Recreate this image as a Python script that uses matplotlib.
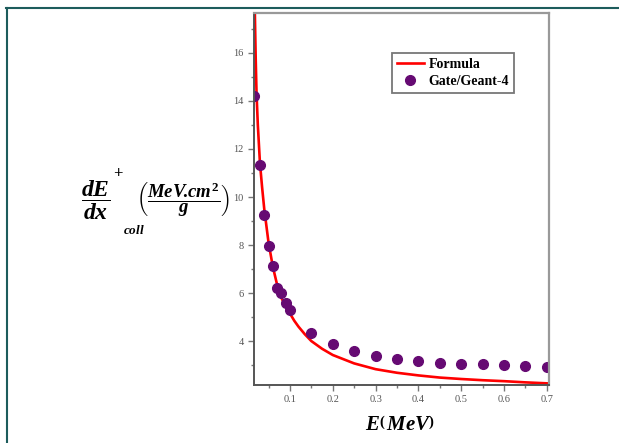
import numpy as np
import matplotlib
matplotlib.use('Agg')
import matplotlib.pyplot as plt
from matplotlib.lines import Line2D
from matplotlib.ticker import MultipleLocator, FormatStrFormatter

plt.rcParams['font.family'] = 'Liberation Serif'
plt.rcParams['mathtext.fontset'] = 'custom'
plt.rcParams['mathtext.it'] = 'Liberation Serif:bold:italic'
plt.rcParams['mathtext.rm'] = 'Liberation Serif:bold'
plt.rcParams['mathtext.bf'] = 'Liberation Serif:bold'

# collision stopping power, analytic curve
E_formula = [0.018, 0.02, 0.022, 0.025, 0.03, 0.035, 0.04, 0.05, 0.06, 0.07, 0.08,
             0.09, 0.1, 0.11, 0.12, 0.135, 0.15, 0.175, 0.2, 0.25, 0.3, 0.35, 0.4,
             0.45, 0.5, 0.55, 0.6, 0.65, 0.7]
S_formula = [17.7, 15.8, 14.3, 13.0, 11.4, 10.4, 9.5, 8.1, 7.1, 6.35, 5.8,
             5.45, 5.15, 4.85, 4.6, 4.28, 4.0, 3.68, 3.42, 3.07, 2.83, 2.68, 2.57,
             2.48, 2.42, 2.37, 2.33, 2.28, 2.24]

# Gate/Geant-4 simulation
E_sim = [0.016, 0.03, 0.04, 0.05, 0.06, 0.07, 0.08, 0.09, 0.1, 0.15, 0.2, 0.25,
         0.3, 0.35, 0.4, 0.45, 0.5, 0.55, 0.6, 0.65, 0.7]
S_sim = [14.2, 11.35, 9.27, 7.98, 7.11, 6.23, 6.0, 5.59, 5.31, 4.34, 3.88, 3.59,
         3.39, 3.25, 3.16, 3.1, 3.05, 3.03, 2.99, 2.96, 2.92]

fig = plt.figure(figsize=(6.19, 4.43), dpi=100)
ax = fig.add_axes([0.4103, 0.1309, 0.4766, 0.839])

ax.plot(E_formula, S_formula, '-', color='#ff0000', lw=1.9, label='Formula')
ax.plot(E_sim, S_sim, 'o', color='#660a73', ms=7, label='Gate/Geant-4')

ax.set_xlim(0.016, 0.705)
ax.set_ylim(2.17, 17.65)
ax.xaxis.set_major_locator(MultipleLocator(0.1))
ax.xaxis.set_minor_locator(MultipleLocator(0.05))
ax.xaxis.set_major_formatter(FormatStrFormatter('%.1f'))
ax.yaxis.set_major_locator(MultipleLocator(2))
ax.yaxis.set_minor_locator(MultipleLocator(1))
ax.tick_params(which='both', direction='out', colors='#777777', labelcolor='#555555',
               labelsize=7.5, width=1)
ax.tick_params(which='major', length=4)
ax.tick_params(which='minor', length=2.5)

for s in ['left', 'bottom']:
    ax.spines[s].set_color('#555555')
    ax.spines[s].set_linewidth(1.4)
for s in ['top', 'right']:
    ax.spines[s].set_color('#999999')
    ax.spines[s].set_linewidth(1.6)

leg = ax.legend(loc='upper left', bbox_to_anchor=(0.467, 0.893), borderaxespad=0,
                fancybox=False, edgecolor='#777777', framealpha=1,
                prop={'family': 'Liberation Serif', 'weight': 'bold', 'size': 10},
                handlelength=2.0, handletextpad=0.3, borderpad=0.35, labelspacing=0.3)
leg.get_frame().set_linewidth(1.3)

# axis titles
fig.text(400 / 619, 1 - 426 / 443, r'$E\left(\,MeV\right)$', ha='center', va='center',
         fontsize=15)
fig.text(96 / 619, 1 - 200 / 443, r'$\dfrac{dE}{dx}$', ha='center', va='center', fontsize=17)
fig.text(118 / 619, 1 - 174 / 443, '+', ha='center', va='center', fontsize=12,
         fontweight='bold')
fig.text(134 / 619, 1 - 231 / 443, r'$coll$', ha='center', va='center', fontsize=9.5)
fig.text(183 / 619, 1 - 200 / 443, r'$\left(\dfrac{MeV\!.\!cm^{2}}{g}\right)$', ha='center',
         va='center', fontsize=13.5)

# outer frame
frame_col = '#1d5c5c'
fig.add_artist(Line2D([6 / 619, 1], [1 - 8 / 443, 1 - 8 / 443], transform=fig.transFigure,
                      color=frame_col, lw=1.5))
fig.add_artist(Line2D([6.5 / 619, 6.5 / 619], [0, 1 - 8 / 443], transform=fig.transFigure,
                      color=frame_col, lw=1.5))

fig.savefig('out.png', dpi=100)
